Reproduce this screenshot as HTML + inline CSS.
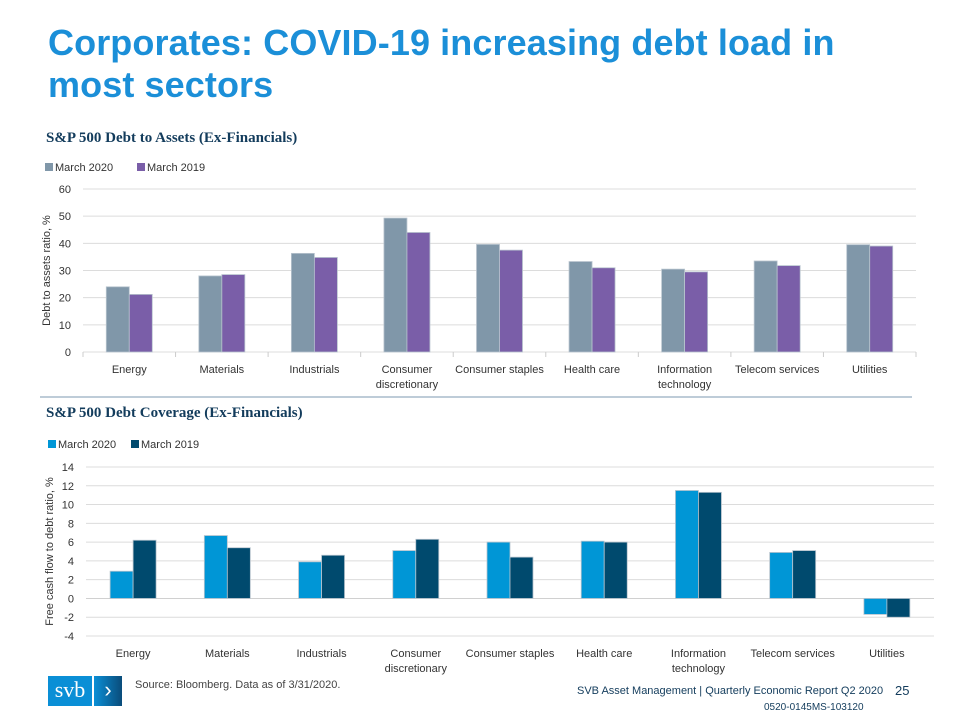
<!DOCTYPE html>
<html><head><meta charset="utf-8">
<style>
body{margin:0;width:960px;height:720px;background:#fff;font-family:"Liberation Sans",sans-serif;overflow:hidden;position:relative}
.t{position:absolute}
#title{left:48px;top:22px;font-size:36px;font-weight:bold;color:#1b8fd8;line-height:42px;letter-spacing:0.1px;font-family:"Liberation Sans Narrow","Liberation Sans",sans-serif}
.sub{font-size:15px;font-weight:bold;color:#133c5c;font-family:"Liberation Serif",serif}
svg text{font-family:"Liberation Sans",sans-serif;font-size:11px;fill:#333}
</style></head><body>
<div class="t" id="title">Corporates: COVID-19 increasing debt load in<br>most sectors</div>
<div class="t sub" style="left:46px;top:130px">S&amp;P 500 Debt to Assets (Ex-Financials)</div>
<div class="t sub" style="left:46px;top:405px">S&amp;P 500 Debt Coverage (Ex-Financials)</div>
<svg id="chart" width="960" height="720" style="position:absolute;left:0;top:0"></svg>
<div class="t" style="left:48px;top:676px;width:44px;height:30px;background:#0a8fd6;color:#fff;font-size:22px;line-height:28px;text-align:center;font-family:'Liberation Serif',serif">svb</div>
<div class="t" style="left:94px;top:676px;width:28px;height:30px;background:linear-gradient(90deg,#0a8fd6,#0a4c7a);color:#fff;font-size:22px;line-height:28px;text-align:center">&#x203A;</div>
<div class="t" style="left:135px;top:679px;font-size:11px;color:#444">Source: Bloomberg. Data as of 3/31/2020.</div>
<div class="t" style="left:577px;top:685px;font-size:11px;color:#133c5c">SVB Asset Management | Quarterly Economic Report Q2 2020</div>
<div class="t" style="left:895px;top:683px;font-size:13px;color:#133c5c">25</div>
<div class="t" style="left:764px;top:702px;font-size:10px;color:#133c5c">0520-0145MS-103120</div>
<script>
const categories=["Energy","Materials","Industrials","Consumer|discretionary","Consumer staples","Health care","Information|technology","Telecom services","Utilities"];
const topTicks=[0,10,20,30,40,50,60];
const debtAssets2020=[24,28,36.3,49.3,39.6,33.3,30.5,33.5,39.5];
const debtAssets2019=[21.2,28.5,34.8,44,37.5,31,29.5,31.8,39];
const botTicks=[-4,-2,0,2,4,6,8,10,12,14];
const coverage2020=[2.9,6.7,3.9,5.1,6.0,6.1,11.5,4.9,-1.7];
const coverage2019=[6.2,5.4,4.6,6.3,4.4,6.0,11.3,5.1,-2.0];
const svg=document.getElementById('chart');
const NS='http://www.w3.org/2000/svg';
function mk(tag,attrs,txt){const e=document.createElementNS(NS,tag);for(const k in attrs)e.setAttribute(k,attrs[k]);if(txt!==undefined)e.textContent=txt;svg.appendChild(e);return e;}
function chart(cfg){
 const {x0,x1,yTop,yBot,min,max,ticks,s1,s2,c1,c2,label,legY,prefix,bw}=cfg;
 const y=v=>yBot-(v-min)/(max-min)*(yBot-yTop);
 const step=(x1-x0)/categories.length;
 ticks.forEach(t=>{
  const g=mk('line',{x1:x0,x2:x1,y1:y(t),y2:y(t),stroke:t===0&&min<0?'#d0d0d0':'#dcdcdc','stroke-width':1});
  
  const tl=mk('text',{x:x0-12,y:y(t)+4,'text-anchor':'end'},t);
  
 });
 if(min===0){for(let i=0;i<=categories.length;i++){const tk=mk('line',{x1:x0+i*step,x2:x0+i*step,y1:yBot,y2:yBot+5,stroke:'#ccc'});}}
 categories.forEach((c,i)=>{
  const cx=x0+step*(i+0.5);
  [[s1,c1,-1],[s2,c2,0]].forEach(([s,col,o],k)=>{
   const v=s[i];const ya=y(Math.max(v,0)),yb=y(Math.min(v,0));
   const r=mk('rect',{x:cx+o*bw,y:ya,width:bw,height:Math.max(yb-ya,0.5),fill:col,stroke:'#b8c4ce','stroke-width':0.8});
   
  });
  const lines=c.split('|');
  lines.forEach((ln,j)=>{const t=mk('text',{x:cx,y:cfg.labY+j*15,'text-anchor':'middle'},ln);});
 });
 const lab=mk('text',{transform:`translate(${x0-33},${(yTop+yBot)/2}) rotate(-90)`,'text-anchor':'middle'},label);
 
 [[c1,'March 2020',0],[c2,'March 2019',cfg.legGap]].forEach(([col,txt,dx])=>{
  const r=mk('rect',{x:cfg.legX+dx,y:legY-8,width:8,height:8,fill:col});
  const t=mk('text',{x:cfg.legX+dx+10,y:legY},txt);
 });
}
chart({x0:83,x1:916,yTop:189,yBot:352,min:0,max:60,ticks:topTicks,s1:debtAssets2020,s2:debtAssets2019,c1:'#8097a9',c2:'#7a5ea8',label:'Debt to assets ratio, %',legX:45,legY:171,legGap:92,prefix:'top',bw:23,labY:373});
chart({x0:86,x1:934,yTop:467,yBot:636,min:-4,max:14,ticks:botTicks,s1:coverage2020,s2:coverage2019,c1:'#0096d6',c2:'#004a6e',label:'Free cash flow to debt ratio, %',legX:48,legY:448,legGap:83,prefix:'bottom',bw:23,labY:657});
const sep=mk('line',{x1:40,x2:912,y1:397,y2:397,stroke:'#a9bccb','stroke-width':1.5});

</script>
</body></html>
